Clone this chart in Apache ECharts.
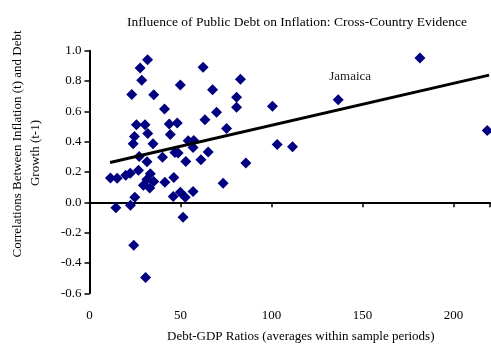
<!DOCTYPE html>
<html>
<head>
<meta charset="utf-8">
<script src="https://cdn.jsdelivr.net/npm/echarts@6/dist/echarts.min.js"></script>
<style>
  html, body { margin: 0; padding: 0; background: #ffffff; }
  #chart { width: 491px; height: 350px; }
</style>
</head>
<body>
<div id="chart"></div>
<script>
// Debt-GDP ratio (sample-period average) for each country
const debtRatio = [
  11.5, 15.2, 14.5, 19.9, 22.4, 22.5, 24.9, 24.3, 30.8, 23.2,
  25.8, 30.5, 24.7, 24.0, 27.3, 26.9, 32.0, 34.9, 31.6, 40.1,
  33.4, 31.5, 35.3, 29.6, 33.1, 41.4, 46.0, 49.9, 52.6, 56.9,
  46.3, 28.7, 27.8, 31.9, 35.3, 41.2, 43.8, 48.2, 49.9, 44.4,
  46.9, 48.7, 52.9, 61.2, 65.2, 54.2, 57.3, 56.9, 62.4, 82.9,
  67.6, 80.8, 80.8, 69.8, 63.4, 75.3, 85.9, 73.4, 51.4, 100.5,
  103.1, 111.5, 136.6, 181.5, 218.5
];
// Correlation between inflation (t) and debt growth (t-1), same order
const correlation = [
  0.161, 0.158, -0.036, 0.178, 0.191, -0.020, 0.033, -0.283, -0.495, 0.711,
  0.511, 0.511, 0.434, 0.386, 0.303, 0.211, 0.454, 0.386, 0.268, 0.298,
  0.188, 0.151, 0.138, 0.112, 0.095, 0.132, 0.039, 0.066, 0.033, 0.072,
  0.163, 0.805, 0.886, 0.941, 0.709, 0.616, 0.516, 0.523, 0.774, 0.447,
  0.329, 0.326, 0.270, 0.281, 0.332, 0.406, 0.408, 0.362, 0.891, 0.811,
  0.743, 0.693, 0.627, 0.594, 0.545, 0.487, 0.259, 0.125, -0.099, 0.634,
  0.382, 0.366, 0.676, 0.952, 0.474
];
// Country names shown next to individual points
const pointNames = { 62: 'Jamaica' };

// Fitted trend: end points (debt ratio, correlation)
const trendX = [11.3, 219.5];
const trendY = [0.263, 0.839];

const xTicks = [0, 50, 100, 150, 200];
const yTicks = [-0.6, -0.4, -0.2, 0.0, 0.2, 0.4, 0.6, 0.8, 1.0];

const titleText = 'Influence of Public Debt on Inflation: Cross-Country Evidence';
const xName = 'Debt-GDP Ratios (averages within sample periods)';
const yNameLines = ['Correlations Between Inflation (t) and Debt', 'Growth (t-1)'];

const serif = '"Liberation Serif", "Times New Roman", serif';

const scatterData = debtRatio.map((x, i) => {
  const item = { value: [x, correlation[i]] };
  if (pointNames[i]) {
    item.label = {
      show: true,
      formatter: pointNames[i],
      position: 'top',
      offset: [12, -6],
      color: '#222222',
      fontFamily: serif,
      fontSize: 13
    };
  }
  return item;
});

const chart = echarts.init(document.getElementById('chart'), null, { renderer: 'canvas' });

const xCommon = {
  type: 'value',
  min: xTicks[0],
  max: 220,
  interval: xTicks[1] - xTicks[0],
  splitLine: { show: false }
};

chart.setOption({
  animation: false,
  backgroundColor: '#ffffff',
  title: {
    text: titleText,
    left: 292,
    top: 10,
    textAlign: 'center',
    textStyle: { fontFamily: serif, fontSize: 13.5, fontWeight: 'normal', color: '#000000' }
  },
  grid: { left: 89.5, right: 1, top: 50.7, bottom: 56.7, containLabel: false },
  xAxis: [
    Object.assign({}, xCommon, {
      position: 'bottom',
      axisLine: { show: false, onZero: false },
      axisTick: { show: false },
      axisLabel: {
        showMaxLabel: false,
        margin: 16,
        color: '#000000',
        fontFamily: serif,
        fontSize: 13
      },
      name: xName,
      nameLocation: 'middle',
      nameGap: 37,
      nameTextStyle: { fontFamily: serif, fontSize: 13, color: '#000000', padding: [0, 0, 0, 22] }
    }),
    Object.assign({}, xCommon, {
      position: 'bottom',
      axisLine: { show: true, onZero: true, lineStyle: { color: '#000000', width: 2 } },
      axisTick: { show: true, length: 5, lineStyle: { color: '#000000', width: 1.5 } },
      axisLabel: { show: false }
    })
  ],
  yAxis: {
    type: 'value',
    min: yTicks[0],
    max: yTicks[yTicks.length - 1],
    interval: 0.2,
    splitLine: { show: false },
    axisLine: { show: true, onZero: false, lineStyle: { color: '#000000', width: 2 } },
    axisTick: { show: true, length: 5, lineStyle: { color: '#000000', width: 1.5 } },
    axisLabel: {
      margin: 8,
      color: '#000000',
      fontFamily: serif,
      fontSize: 13,
      formatter: v => v.toFixed(1)
    }
  },
  graphic: [
    {
      type: 'text', x: 18, y: 144, rotation: Math.PI / 2,
      style: { text: yNameLines[0], fontFamily: serif, fontSize: 13, fill: '#000000', textAlign: 'center', textVerticalAlign: 'middle' }
    },
    {
      type: 'text', x: 36, y: 153, rotation: Math.PI / 2,
      style: { text: yNameLines[1], fontFamily: serif, fontSize: 13, fill: '#000000', textAlign: 'center', textVerticalAlign: 'middle' }
    }
  ],
  series: [
    {
      type: 'scatter',
      xAxisIndex: 0,
      symbol: 'diamond',
      symbolSize: 11,
      itemStyle: { color: '#000080', opacity: 1 },
      data: scatterData,
      z: 3
    },
    {
      type: 'line',
      xAxisIndex: 0,
      data: trendX.map((x, i) => [x, trendY[i]]),
      showSymbol: false,
      symbol: 'none',
      lineStyle: { color: '#000000', width: 3 },
      z: 4
    }
  ]
});
</script>
</body>
</html>
